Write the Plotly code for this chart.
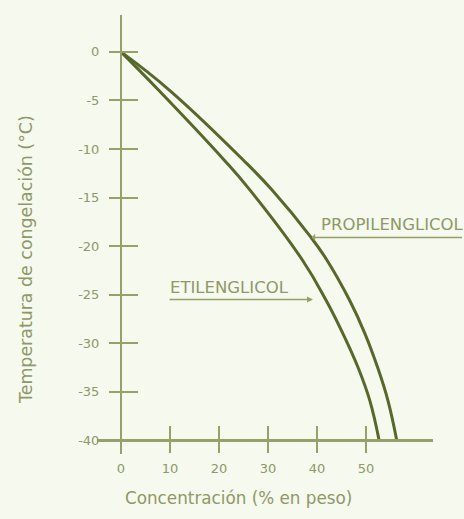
import plotly.graph_objects as go

# ---- data ----
eth_conc = [0, 7.6, 21.0, 26.3, 37.0, 41.9, 45.3, 48.4, 50.8, 52.7]
eth_temp = [0, -3.9, -11.1, -14.2, -21.4, -25.6, -29.0, -32.5, -35.9, -40]
prop_conc = [0, 9.8, 24.9, 30.8, 38.8, 42.0, 46.7, 49.8, 52.4, 54.5, 56.3]
prop_temp = [0, -3.9, -11.1, -14.2, -19.1, -21.4, -25.6, -29.0, -32.5, -35.9, -40]

x_ticks = [0, 10, 20, 30, 40, 50]
x_ticktext = ["0", "10", "20", "30", "40", "50"]
y_ticks = [0, -5, -10, -15, -20, -25, -30, -35, -40]
y_ticktext = ["0", "-5", "-10", "-15", "-20", "-25", "-30", "-35", "-40"]

labels = ["PROPILENGLICOL", "ETILENGLICOL"]
label_pos = [(40.4, -17.8), (9.6, -24.3)]
arrow_tips = [(38.9, -19.1), (39.2, -25.5)]

x_title = "Concentración (% en peso)"
y_title = "Temperatura de congelación (°C)"

# ---- style ----
BG = "#f6f9ee"
AXIS = "#98a06a"
TEXT = "#8e9868"
CURVE = "#56682a"
FONT = "DejaVu Sans"

x_range = [-4.9, 63.7]
y_range = [-41.4, 3.8]
x_pos = (y_ticks[-1] - y_range[0]) / (y_range[1] - y_range[0])
y_pos = (0 - x_range[0]) / (x_range[1] - x_range[0])

fig = go.Figure()
fig.add_trace(go.Scatter(x=eth_conc, y=eth_temp, mode="lines",
                         line=dict(color=CURVE, width=3, shape="spline", smoothing=1.2),
                         showlegend=False, hoverinfo="skip"))
fig.add_trace(go.Scatter(x=prop_conc, y=prop_temp, mode="lines",
                         line=dict(color=CURVE, width=3, shape="spline", smoothing=1.2),
                         showlegend=False, hoverinfo="skip"))
# empty trace so the overlaid tick axes are drawn
fig.add_trace(go.Scatter(x=[], y=[], xaxis="x2", yaxis="y2", showlegend=False))

common_font = dict(family=FONT, size=13, color=TEXT)

fig.update_layout(
    width=464, height=519,
    margin=dict(l=97, r=31, t=15, b=65),
    paper_bgcolor=BG, plot_bgcolor=BG,
    font=dict(family=FONT, color=TEXT),
    xaxis=dict(range=x_range, anchor="free", position=x_pos,
               showline=True, linecolor=AXIS, linewidth=2.5,
               ticks="outside", ticklen=11, tickwidth=1.5, tickcolor=AXIS,
               tickvals=x_ticks, ticktext=x_ticktext, tickfont=common_font,
               ticklabelstandoff=4,
               showgrid=False, zeroline=False, automargin=False),
    yaxis=dict(range=y_range, anchor="free", position=y_pos,
               showline=True, linecolor=AXIS, linewidth=2,
               ticks="outside", ticklen=11, tickwidth=1.5, tickcolor=AXIS,
               tickvals=y_ticks, ticktext=y_ticktext, tickfont=common_font,
               ticklabelstandoff=7,
               showgrid=False, zeroline=False, automargin=False),
    xaxis2=dict(range=x_range, overlaying="x", anchor="free", position=x_pos,
                showline=False, ticks="inside", ticklen=14, tickwidth=1.5,
                tickcolor=AXIS, tickvals=x_ticks[1:], showticklabels=False,
                showgrid=False, zeroline=False),
    yaxis2=dict(range=y_range, overlaying="y", anchor="free", position=y_pos,
                showline=False, ticks="inside", ticklen=16, tickwidth=1.5,
                tickcolor=AXIS, tickvals=y_ticks[:-1], showticklabels=False,
                showgrid=False, zeroline=False),
)

# axis titles
fig.add_annotation(text=x_title, xref="paper", yref="paper", x=0.4226, y=-0.128,
                   showarrow=False, font=dict(family=FONT, size=16.8, color=TEXT))
fig.add_annotation(text=y_title, xref="paper", yref="paper", x=-0.247, y=0.442,
                   textangle=-90, showarrow=False,
                   font=dict(family=FONT, size=17.4, color=TEXT))

# curve labels
for lab, (lx, ly) in zip(labels, label_pos):
    fig.add_annotation(text=lab, x=lx, y=ly, xanchor="left", yanchor="middle",
                       showarrow=False, font=dict(family=FONT, size=16.5, color=TEXT))

# underline arrows
fig.add_annotation(text="", x=arrow_tips[0][0], y=arrow_tips[0][1],
                   ax=152, ay=0, axref="pixel", ayref="pixel",
                   showarrow=True, arrowhead=1, arrowsize=0.8, arrowwidth=1.5,
                   arrowcolor=AXIS)
fig.add_annotation(text="", x=arrow_tips[1][0], y=arrow_tips[1][1],
                   ax=-145, ay=0, axref="pixel", ayref="pixel",
                   showarrow=True, arrowhead=2, arrowsize=0.8, arrowwidth=1.5,
                   arrowcolor=AXIS)

fig.write_html("out.html", config={"displayModeBar": False},
               post_script="document.body.style.margin='0';"
                           "document.body.style.background='" + BG + "';")
